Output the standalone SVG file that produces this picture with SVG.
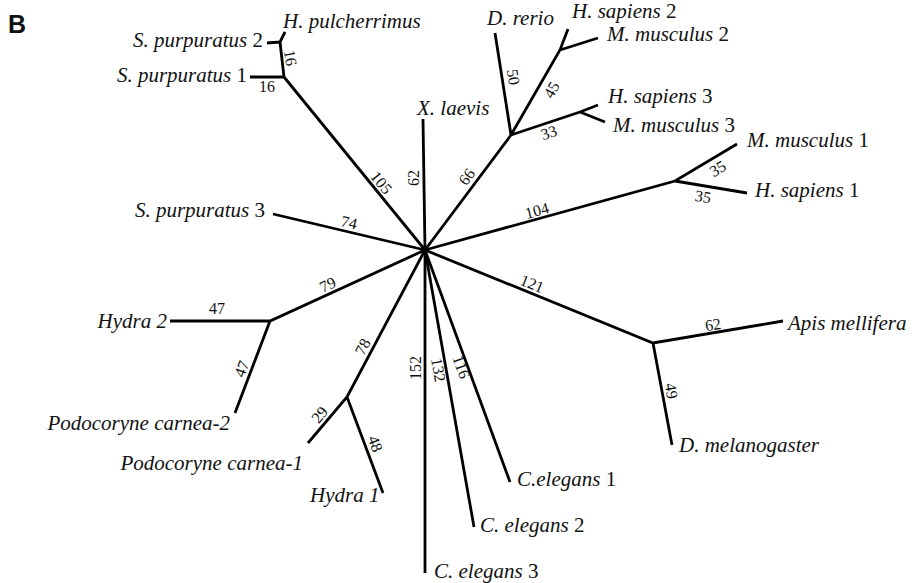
<svg xmlns="http://www.w3.org/2000/svg" width="912" height="583" viewBox="0 0 912 583">
<style>
.e{stroke:#000;stroke-width:2.8;fill:none;stroke-linecap:butt}
.sp{font-family:"Liberation Serif","Times New Roman",serif;font-style:italic;font-size:21px;fill:#111}
.n{font-style:normal}
.bl{font-family:"Liberation Serif","Times New Roman",serif;font-size:16px;fill:#111;text-anchor:middle}
.end{text-anchor:end}
</style>
<rect width="912" height="583" fill="#fff"/>
<text x="8" y="33" font-family="Liberation Sans, Arial, sans-serif" font-weight="bold" font-size="25" fill="#111">B</text>
<g id="connectors">
<path class="e" d="M425,250 L284,77 M284,77 L250,77 M284,77 L280,42 M280,42 L267,43 M280,42 L285,32"/>
<path class="e" d="M425,250 L423,119"/>
<path class="e" d="M425,250 L511,135 L495,33 M511,135 L560,50 L568,29 M560,50 L598,38 M511,135 L580,112 L598,105 M580,112 L605,122"/>
<path class="e" d="M425,250 L675,181 L737,144 M675,181 L747,193"/>
<path class="e" d="M425,250 L273,214"/>
<path class="e" d="M425,250 L270,321 L170,321 M270,321 L235,413"/>
<path class="e" d="M425,250 L347,397 L308,443 M347,397 L383,493"/>
<path class="e" d="M425,250 L425,573"/>
<path class="e" d="M425,250 L474,527"/>
<path class="e" d="M425,250 L510,482"/>
<path class="e" d="M425,250 L653,343 L783,321 M653,343 L672,445"/>
<g id="branch-labels">
<text class="bl" transform="translate(381,183) rotate(51)" y="5">105</text>
<text class="bl" transform="translate(267,87)" y="5">16</text>
<text class="bl" transform="translate(290,58) rotate(80)" y="5">16</text>
<text class="bl" transform="translate(414,178) rotate(-90)" y="5">62</text>
<text class="bl" transform="translate(467,177) rotate(-53)" y="5">66</text>
<text class="bl" transform="translate(513,77) rotate(81)" y="5">50</text>
<text class="bl" transform="translate(552,90) rotate(-60)" y="5">45</text>
<text class="bl" transform="translate(549,133) rotate(-18)" y="5">33</text>
<text class="bl" transform="translate(537,211) rotate(-15)" y="5">104</text>
<text class="bl" transform="translate(718,169) rotate(-31)" y="5">35</text>
<text class="bl" transform="translate(703,197) rotate(9)" y="5">35</text>
<text class="bl" transform="translate(349,223) rotate(13)" y="5">74</text>
<text class="bl" transform="translate(328,285) rotate(-25)" y="5">79</text>
<text class="bl" transform="translate(217,309)" y="5">47</text>
<text class="bl" transform="translate(242,369) rotate(-69)" y="5">47</text>
<text class="bl" transform="translate(363,347) rotate(-62)" y="5">78</text>
<text class="bl" transform="translate(320,415) rotate(-50)" y="5">29</text>
<text class="bl" transform="translate(375,444) rotate(69)" y="5">48</text>
<text class="bl" transform="translate(416,368) rotate(-90)" y="5">152</text>
<text class="bl" transform="translate(438,370) rotate(80)" y="5">132</text>
<text class="bl" transform="translate(461,367) rotate(70)" y="5">116</text>
<text class="bl" transform="translate(532,284) rotate(22)" y="5">121</text>
<text class="bl" transform="translate(713,325) rotate(-9)" y="5">62</text>
<text class="bl" transform="translate(671,391) rotate(80)" y="5">49</text>
</g>
</g>
<g id="h-pulcherrimus"><text class="sp" x="283" y="28">H. pulcherrimus</text></g>
<g id="s-purpuratus-2"><text class="sp end" x="263" y="47">S. purpuratus <tspan class="n">2</tspan></text></g>
<g id="s-purpuratus-1"><text class="sp end" x="247" y="82">S. purpuratus <tspan class="n">1</tspan></text></g>
<g id="x-laevis"><text class="sp" x="417" y="115">X. laevis</text></g>
<g id="d-rerio"><text class="sp" x="487" y="25">D. rerio</text></g>
<g id="h-sapiens-2"><text class="sp" x="572" y="18">H. sapiens <tspan class="n">2</tspan></text></g>
<g id="m-musculus-2"><text class="sp" x="607" y="41">M. musculus <tspan class="n">2</tspan></text></g>
<g id="h-sapiens-3"><text class="sp" x="608" y="103">H. sapiens <tspan class="n">3</tspan></text></g>
<g id="m-musculus-3"><text class="sp" x="613" y="132">M. musculus <tspan class="n">3</tspan></text></g>
<g id="m-musculus-1"><text class="sp" x="747" y="147">M. musculus <tspan class="n">1</tspan></text></g>
<g id="h-sapiens-1"><text class="sp" x="755" y="197">H. sapiens <tspan class="n">1</tspan></text></g>
<g id="s-purpuratus-3"><text class="sp end" x="265" y="217">S. purpuratus <tspan class="n">3</tspan></text></g>
<g id="hydra-2"><text class="sp end" x="167" y="328">Hydra 2</text></g>
<g id="podocoryne-carnea-2"><text class="sp end" x="230" y="430">Podocoryne carnea-2</text></g>
<g id="podocoryne-carnea-1"><text class="sp end" x="303" y="470">Podocoryne carnea-1</text></g>
<g id="hydra-1"><text class="sp" x="310" y="502">Hydra 1</text></g>
<g id="c-elegans-3"><text class="sp" x="434" y="578">C. elegans <tspan class="n">3</tspan></text></g>
<g id="c-elegans-2"><text class="sp" x="480" y="532">C. elegans <tspan class="n">2</tspan></text></g>
<g id="c-elegans-1"><text class="sp" x="517" y="486">C.elegans <tspan class="n">1</tspan></text></g>
<g id="d-melanogaster"><text class="sp" x="679" y="452">D. melanogaster</text></g>
<g id="apis-mellifera"><text class="sp" x="788" y="330">Apis mellifera</text></g>
</svg>
